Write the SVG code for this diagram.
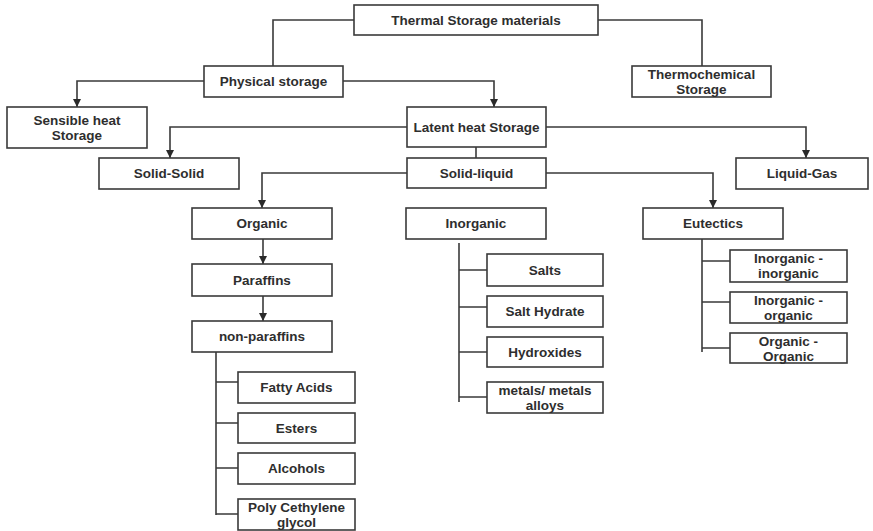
<svg xmlns="http://www.w3.org/2000/svg" width="873" height="531" viewBox="0 0 873 531">
  <style>
    .box rect { fill: #ffffff; stroke: #3a3a3a; stroke-width: 1.6; }
    .box text { font-family: "Liberation Sans", Arial, sans-serif; font-weight: bold; font-size: 13.5px; fill: #2e2e2e; text-anchor: middle; }
    .links path { fill: none; stroke: #3a3a3a; stroke-width: 1.6; }
    .links path.arrow { marker-end: url(#head); }
  </style>
  <defs>
    <marker id="head" markerWidth="9" markerHeight="8" refX="8" refY="4" orient="auto" markerUnits="userSpaceOnUse">
      <path d="M0,0 L8,4 L0,8 Z" fill="#2a2a2a"/>
    </marker>
  </defs>
  <rect width="873" height="531" fill="#ffffff"/>

  <!-- connectors -->
  <g class="links">
    <path d="M354,20 H273 V66"/>
    <path d="M598,20 H702 V66"/>
    <path class="arrow" d="M204,81 H77 V107"/>
    <path class="arrow" d="M343,81 H494 V107"/>
    <path class="arrow" d="M407,127 H170 V158"/>
    <path class="arrow" d="M546,127 H806 V158"/>
    <path d="M476,147 V158"/>
    <path class="arrow" d="M407,173 H262 V208"/>
    <path class="arrow" d="M546,173 H713 V208"/>
    <path class="arrow" d="M263,239 V264"/>
    <path class="arrow" d="M263,296 V321"/>
    <!-- non-paraffins branches -->
    <path d="M216,352 V515"/>
    <path d="M216,382 H238 M216,423 H238 M216,468 H238 M216,514 H238"/>
    <!-- inorganic branches -->
    <path d="M459,243 V402"/>
    <path d="M459,270 H487 M459,307 H487 M459,352 H487 M459,397 H487"/>
    <!-- eutectics branches -->
    <path d="M702,239 V352"/>
    <path d="M702,261 H730 M702,302 H730 M702,348 H730"/>
  </g>

  <g id="thermal" class="box"><rect x="354" y="5" width="244" height="30"/><text x="476" y="25">Thermal Storage materials</text></g>
  <g id="physical" class="box"><rect x="204" y="66" width="139" height="31"/><text x="273.5" y="86">Physical storage</text></g>
  <g id="thermochemical" class="box"><rect x="632" y="66" width="139" height="31"/><text x="701.5" y="79">Thermochemical</text><text x="701.5" y="94">Storage</text></g>
  <g id="sensible" class="box"><rect x="7" y="107" width="140" height="41"/><text x="77" y="124.5">Sensible heat</text><text x="77" y="139.5">Storage</text></g>
  <g id="latent" class="box"><rect x="407" y="107" width="139" height="40"/><text x="476.5" y="132">Latent heat Storage</text></g>
  <g id="solid-solid" class="box"><rect x="99" y="158" width="140" height="31"/><text x="169" y="178">Solid-Solid</text></g>
  <g id="solid-liquid" class="box"><rect x="407" y="158" width="139" height="30"/><text x="476.5" y="178">Solid-liquid</text></g>
  <g id="liquid-gas" class="box"><rect x="736" y="158" width="132" height="31"/><text x="802" y="178">Liquid-Gas</text></g>

  <g id="organic" class="box"><rect x="192" y="208" width="140" height="31"/><text x="262" y="228">Organic</text></g>
  <g id="paraffins" class="box"><rect x="192" y="264" width="140" height="32"/><text x="262" y="284.5">Paraffins</text></g>
  <g id="non-paraffins" class="box"><rect x="192" y="321" width="140" height="31"/><text x="262" y="341">non-paraffins</text></g>
  <g id="fatty-acids" class="box"><rect x="238" y="372" width="117" height="31"/><text x="296.5" y="392">Fatty Acids</text></g>
  <g id="esters" class="box"><rect x="238" y="413" width="117" height="30"/><text x="296.5" y="432.5">Esters</text></g>
  <g id="alcohols" class="box"><rect x="238" y="453" width="117" height="31"/><text x="296.5" y="473">Alcohols</text></g>
  <g id="poly" class="box"><rect x="238" y="499" width="117" height="31"/><text x="296.5" y="512">Poly Cethylene</text><text x="296.5" y="527">glycol</text></g>

  <g id="inorganic" class="box"><rect x="406" y="208" width="140" height="31"/><text x="476" y="228">Inorganic</text></g>
  <g id="salts" class="box"><rect x="487" y="254" width="116" height="32"/><text x="545" y="274.5">Salts</text></g>
  <g id="salt-hydrate" class="box"><rect x="487" y="296" width="116" height="31"/><text x="545" y="316">Salt Hydrate</text></g>
  <g id="hydroxides" class="box"><rect x="487" y="337" width="116" height="30"/><text x="545" y="356.5">Hydroxides</text></g>
  <g id="metals" class="box"><rect x="487" y="382" width="116" height="31"/><text x="545" y="395">metals/ metals</text><text x="545" y="410">alloys</text></g>

  <g id="eutectics" class="box"><rect x="643" y="208" width="140" height="31"/><text x="713" y="228">Eutectics</text></g>
  <g id="inorg-inorg" class="box"><rect x="730" y="250" width="117" height="32"/><text x="788.5" y="263">Inorganic -</text><text x="788.5" y="278">inorganic</text></g>
  <g id="inorg-org" class="box"><rect x="730" y="292" width="117" height="31"/><text x="788.5" y="305">Inorganic -</text><text x="788.5" y="320">organic</text></g>
  <g id="org-org" class="box"><rect x="730" y="333" width="117" height="30"/><text x="788.5" y="346">Organic -</text><text x="788.5" y="361">Organic</text></g>
</svg>
